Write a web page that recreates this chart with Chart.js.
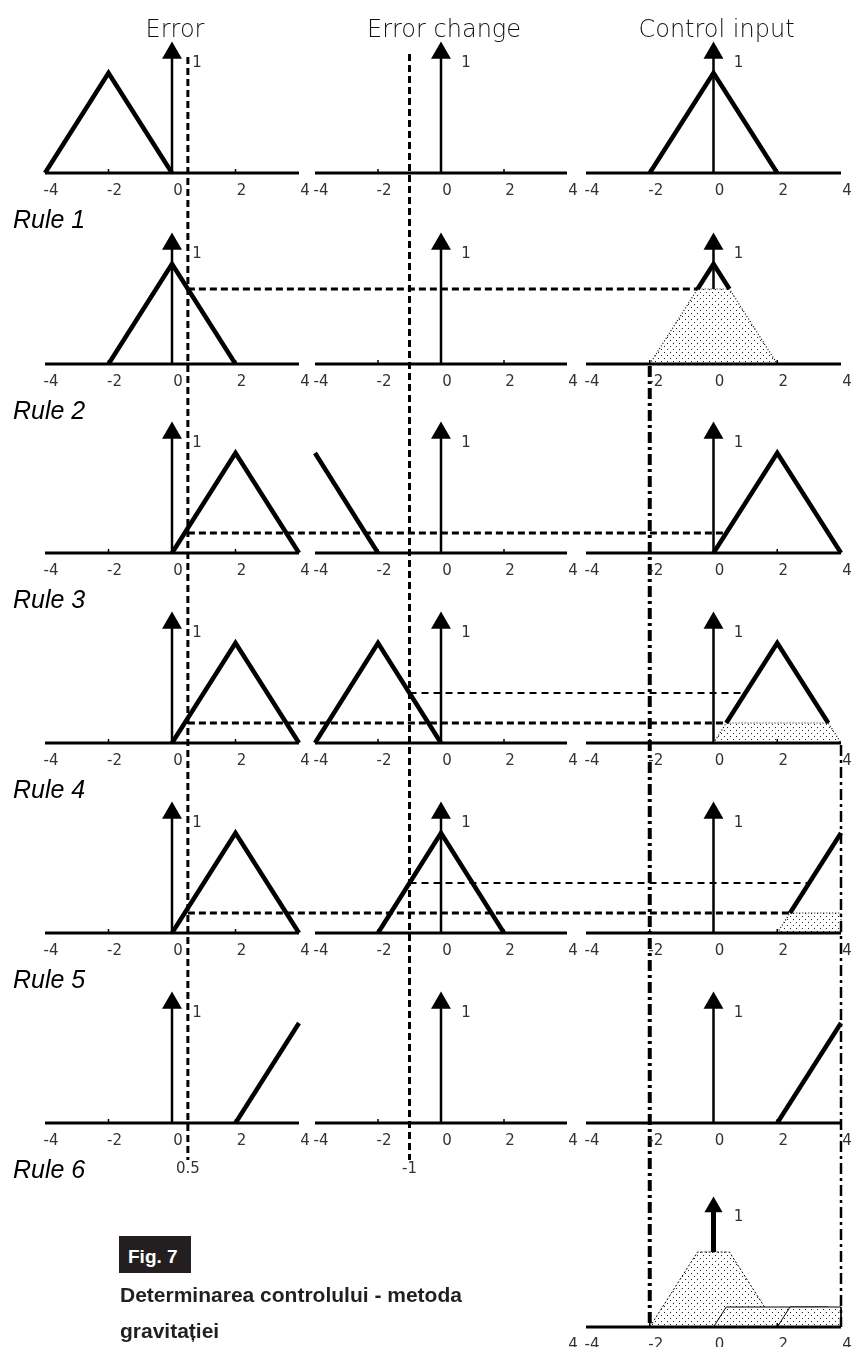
<!DOCTYPE html>
<html>
<head>
<meta charset="utf-8">
<script src="https://cdn.jsdelivr.net/npm/chart.js@4.4.1/dist/chart.umd.min.js"></script>
<style>
  html, body { margin: 0; padding: 0; background: #fff; }
  #wrap { position: relative; width: 857px; height: 1347px; overflow: hidden; }
  #rules { position: absolute; left: 0; top: 0; }
  #fig {
    position: absolute; left: 119px; top: 1236px; width: 72px; height: 37px;
    box-sizing: border-box; padding: 2px 0 0 9px;
    background: #231f20; color: #fff;
    font: bold 19px "Liberation Sans", Arial, sans-serif; line-height: 37px;
  }
  #caption {
    position: absolute; left: 120px; top: 1277px;
    color: #231f20; font: bold 21px "Liberation Sans", Arial, sans-serif; line-height: 36px;
  }
</style>
</head>
<body>
<div id="wrap">
  <canvas id="rules" width="857" height="1347"></canvas>
  <div id="fig">Fig. 7</div>
  <div id="caption">Determinarea controlului - metoda<br>gravitației</div>
</div>
<script>
// --- data ---
const columnTitles = ['Error', 'Error change', 'Control input'];
const ruleLabels = ['Rule 1', 'Rule 2', 'Rule 3', 'Rule 4', 'Rule 5', 'Rule 6'];
const tickValues = [-4, -2, 0, 2, 4];

// membership function corners
const nsX = [-4, -2, 0], nsY = [0, 1, 0];
const zeX = [-2, 0, 2],  zeY = [0, 1, 0];
const psX = [0, 2, 4],   psY = [0, 1, 0];
const nbX = [-4, -2],    nbY = [1, 0];
const pbX = [2, 4],      pbY = [0, 1];

// sets used in the top row and in rules 1..5
const errorSets   = ['NS', 'ZE', 'PS', 'PS', 'PS', 'PB'];
const changeSets  = [null, null, 'NB', 'NS', 'ZE', null];
const controlSets = ['ZE', 'ZE', 'PS', 'PS', 'PB', 'PB'];

const errorInput = 0.5;
const changeInput = -1;
const errorDegree  = [null, 0.75, 0.2, 0.2, 0.2, null];
const changeDegree = [null, null, null, 0.5, 0.5, null];
const ruleStrength = [null, 0.75, 0, 0.2, 0.2, 0];
const outputBounds = [-2, 4];
const boundFromRow = [1, 3];

// --- layout (pixels) ---
const colLeft = [45, 315, 586];
const colRight = [299, 567, 841];
const rowBase = [173, 364, 553, 743, 933, 1123, 1327];
const unitHeight = 100;
const FINAL = 6;

const setX = { NS: nsX, ZE: zeX, PS: psX, NB: nbX, PB: pbX };
const setY = { NS: nsY, ZE: zeY, PS: psY, NB: nbY, PB: pbY };

function points(name) {
    return setX[name].map((x, i) => ({ x: x, y: setY[name][i] }));
}

function crossing(q, p, level) {
    const t = (level - q.y) / (p.y - q.y);
    return { x: q.x + t * (p.x - q.x), y: level };
}

// min(mf, level), closed down to the axis
function clipShape(pts, level) {
    const out = [];
    if (pts[0].y > 0) out.push({ x: pts[0].x, y: 0 });
    pts.forEach((p, i) => {
        if (i > 0 && (pts[i - 1].y - level) * (p.y - level) < 0) out.push(crossing(pts[i - 1], p, level));
        out.push({ x: p.x, y: Math.min(p.y, level) });
    });
    const last = pts[pts.length - 1];
    if (last.y > 0) out.push({ x: last.x, y: 0 });
    return out;
}

// part of the mf that sticks out above the cut
function aboveShape(pts, level) {
    const out = [];
    pts.forEach((p, i) => {
        if (i > 0 && (pts[i - 1].y - level) * (p.y - level) < 0) out.push(crossing(pts[i - 1], p, level));
        if (p.y >= level) out.push(p);
    });
    return out;
}

function leftCrossing(pts, level) {
    for (let i = 1; i < pts.length; i++) {
        if (pts[i - 1].y <= level && pts[i].y >= level) return crossing(pts[i - 1], pts[i], level).x;
    }
    return pts[0].x;
}

const canvas = document.getElementById('rules');
const dots = (function () {
    const t = document.createElement('canvas');
    t.width = 6; t.height = 6;
    const g = t.getContext('2d');
    g.fillStyle = '#fff'; g.fillRect(0, 0, 6, 6);
    g.fillStyle = '#222';
    g.fillRect(1, 1, 1, 1); g.fillRect(4, 4, 1, 1);
    return canvas.getContext('2d').createPattern(t, 'repeat');
})();

const datasets = [];
function line(data, c, r, style) {
    datasets.push(Object.assign({
        data: data, xAxisID: 'x' + c, yAxisID: 'y' + r,
        showLine: true, fill: false, pointRadius: 0,
        borderColor: '#000', borderWidth: 3, tension: 0,
        borderJoinStyle: 'miter', clip: false, order: 1
    }, style));
}
function arrow(c, r, width, head) {
    line([{ x: 0, y: 0 }, { x: 0, y: 1.2 }], c, r, { borderWidth: width, order: 3 });
    datasets.push({
        data: [{ x: 0, y: 1.2 }], xAxisID: 'x' + c, yAxisID: 'y' + r,
        showLine: false, pointStyle: 'triangle', pointRadius: head,
        pointBackgroundColor: '#000', pointBorderWidth: 0, clip: false, order: 3
    });
}

for (let r = 0; r < 6; r++) {
    for (let c = 0; c < 3; c++) {
        line([{ x: -4, y: 0 }, { x: 4, y: 0 }], c, r, { borderWidth: 3, order: 0 });
        arrow(c, r, 2.5, 11.5);
    }
    line(points(errorSets[r]), 0, r, { borderWidth: 4.5 });
    if (changeSets[r]) line(points(changeSets[r]), 1, r, { borderWidth: 4.5 });

    const out = points(controlSets[r]);
    const cut = ruleStrength[r];
    if (cut > 0) {
        line(clipShape(out, cut), 2, r, {
            fill: 'origin', backgroundColor: dots, borderWidth: 1.2, borderDash: [1, 2], order: 2
        });
        line(aboveShape(out, cut), 2, r, { borderWidth: 4.5 });
    } else {
        line(out, 2, r, { borderWidth: 4.5 });
    }
}

// aggregated output (bottom right)
line([{ x: -4, y: 0 }, { x: 4, y: 0 }], 2, FINAL, { borderWidth: 3, order: 0 });
arrow(2, FINAL, 5, 10.5);
ruleStrength.forEach((cut, r) => {
    if (!(cut > 0)) return;
    line(clipShape(points(controlSets[r]), cut), 2, FINAL, {
        fill: 'origin', backgroundColor: dots, borderWidth: 1,
        borderDash: r === 1 ? [2, 2] : [], order: 2 + 0.1 * (6 - r)
    });
});

const scales = {};
for (let c = 0; c < 3; c++) scales['x' + c] = { type: 'linear', axis: 'x', min: -4, max: 4, display: false };
for (let r = 0; r <= FINAL; r++) scales['y' + r] = { type: 'linear', axis: 'y', min: 0, max: 1, display: false };

// put every panel's scales where the panel sits on the page
const placePanels = {
    id: 'placePanels',
    afterLayout(chart) {
        for (let c = 0; c < 3; c++) {
            const s = chart.scales['x' + c];
            s.left = colLeft[c]; s.right = colRight[c]; s.width = colRight[c] - colLeft[c];
            s.configure();
        }
        rowBase.forEach((base, r) => {
            const s = chart.scales['y' + r];
            s.top = base - unitHeight; s.bottom = base; s.height = unitHeight;
            s.configure();
        });
    }
};

function seg(ctx, x1, y1, x2, y2, width, dash) {
    ctx.beginPath();
    ctx.lineWidth = width;
    ctx.setLineDash(dash);
    ctx.moveTo(x1, y1);
    ctx.lineTo(x2, y2);
    ctx.stroke();
}

const guides = {
    id: 'guides',
    afterDatasetsDraw(chart) {
        const ctx = chart.ctx;
        const X = (c, v) => chart.scales['x' + c].getPixelForValue(v);
        const Y = (r, v) => chart.scales['y' + r].getPixelForValue(v);
        ctx.save();
        ctx.strokeStyle = '#000';
        ctx.lineCap = 'butt';

        // small tick marks on the axes
        for (let r = 0; r <= FINAL; r++) {
            for (let c = 0; c < 3; c++) {
                if (r === FINAL && c !== 2) continue;
                [-2, 2].forEach(v => seg(ctx, X(c, v), Y(r, 0) - 1, X(c, v), Y(r, 0) - 4, 1.5, []));
            }
        }

        // inputs
        seg(ctx, X(0, errorInput), Y(0, 1.16), X(0, errorInput), Y(5, -0.37), 3, [7, 4]);
        seg(ctx, X(1, changeInput), Y(0, 1.19), X(1, changeInput), Y(5, -0.37), 3, [7, 4]);

        // degrees carried over to the output sets
        for (let r = 1; r < 6; r++) {
            const out = points(controlSets[r]);
            if (errorDegree[r] != null) {
                const y = Y(r, errorDegree[r]);
                seg(ctx, X(0, errorInput), y, X(2, leftCrossing(out, errorDegree[r])), y, 3, [7, 4]);
            }
            if (changeDegree[r] != null) {
                const y = Y(r, changeDegree[r]);
                seg(ctx, X(1, changeInput), y, X(2, leftCrossing(out, changeDegree[r])), y, 2, [7, 5]);
            }
        }

        // bounds of the aggregated output
        outputBounds.forEach((b, i) => {
            seg(ctx, X(2, b), Y(boundFromRow[i], 0) + 2, X(2, b), Y(FINAL, 0), i === 0 ? 4 : 2.5, [11, 4, 3, 4]);
        });
        ctx.restore();
    },
    afterDraw(chart) {
        const ctx = chart.ctx;
        const X = (c, v) => chart.scales['x' + c].getPixelForValue(v);
        const Y = (r, v) => chart.scales['y' + r].getPixelForValue(v);
        ctx.save();

        ctx.fillStyle = '#111';
        ctx.font = '200 24px "DejaVu Sans"';
        ctx.textAlign = 'center';
        ctx.textBaseline = 'alphabetic';
        columnTitles.forEach((t, c) => ctx.fillText(t, X(c, 0) + 3, Y(0, 1.36)));

        ctx.fillStyle = '#000';
        ctx.font = 'italic 25px "Liberation Sans"';
        ctx.textAlign = 'left';
        ruleLabels.forEach((t, r) => ctx.fillText(t, 13, Y(r, -0.55)));

        ctx.fillStyle = '#333';
        ctx.font = '15px "DejaVu Sans"';
        ctx.textAlign = 'center';
        ctx.textBaseline = 'middle';
        for (let r = 0; r <= FINAL; r++) {
            for (let c = 0; c < 3; c++) {
                if (r === FINAL && c !== 2) continue;
                tickValues.forEach(v => ctx.fillText(String(v), X(c, v) + 6, Y(r, 0) + 18));
                ctx.fillText('1', X(c, 0) + 25, Y(r, 1.1));
            }
        }
        ctx.fillText(String(tickValues[4]), X(1, 4) + 6, Y(FINAL, 0) + 18);

        ctx.font = '15px "DejaVu Sans"';
        ctx.fillText(String(errorInput), X(0, errorInput), Y(5, -0.46));
        ctx.fillText(String(changeInput), X(1, changeInput), Y(5, -0.46));
        ctx.restore();
    }
};

new Chart(canvas, {
    type: 'scatter',
    data: { datasets: datasets },
    options: {
        responsive: false,
        animation: false,
        devicePixelRatio: 1,
        events: [],
        layout: { padding: 0 },
        plugins: { legend: { display: false }, tooltip: { enabled: false } },
        scales: scales
    },
    plugins: [placePanels, guides]
});
</script>
</body>
</html>
